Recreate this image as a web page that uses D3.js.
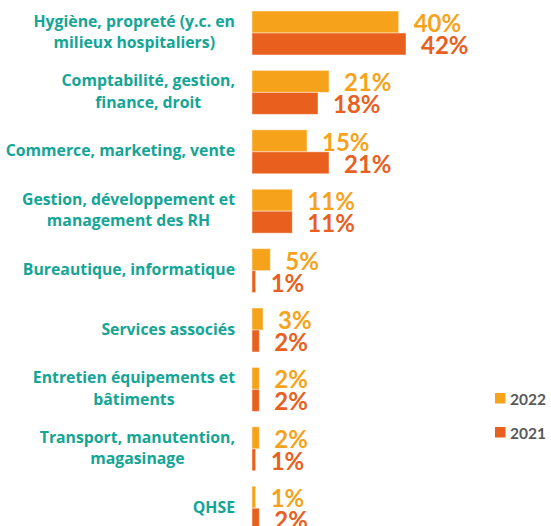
<!DOCTYPE html>
<html>
<head>
<meta charset="utf-8">
<script src="https://cdn.jsdelivr.net/npm/d3@7"></script>
<style>
  html, body { margin: 0; padding: 0; background: #fff; }
  svg { display: block; font-family: Lato, "Open Sans", sans-serif; }
</style>
</head>
<body>
<svg id="chart" width="551" height="526"></svg>
<script>
// Training domains, in display order (line breaks mark the wrapped labels)
const categories = [
  "Hygiène, propreté (y.c. en\nmilieux hospitaliers)",
  "Comptabilité, gestion,\nfinance, droit",
  "Commerce, marketing, vente",
  "Gestion, développement et\nmanagement des RH",
  "Bureautique, informatique",
  "Services associés",
  "Entretien équipements et\nbâtiments",
  "Transport, manutention,\nmagasinage",
  "QHSE"
];
const years = ["2022", "2021"];
const values2022 = [40, 21, 15, 11, 5, 3, 2, 2, 1];
const values2021 = [42, 18, 21, 11, 1, 2, 2, 1, 2];
const colors = { "2022": "#F6A31B", "2021": "#E9601E" };

const rows = categories.map((c, i) => ({
  category: c,
  values: [
    { year: "2022", value: values2022[i] },
    { year: "2021", value: values2021[i] }
  ]
}));

const svg = d3.select("#chart");

const x = d3.scaleLinear().domain([0, 42]).range([252, 406]);
const y = d3.scaleBand()
  .domain(categories)
  .range([3.3, 537.9])
  .paddingInner(0.26)
  .paddingOuter(0.13);
const ySub = d3.scaleBand().domain(years).range([0, y.bandwidth()]);

const groups = svg.append("g").selectAll("g.group")
  .data(rows)
  .join("g")
  .attr("class", "group")
  .attr("transform", d => `translate(0,${y(d.category)})`);

// Bars
groups.selectAll("rect")
  .data(d => d.values)
  .join("rect")
  .attr("x", x(0))
  .attr("y", d => ySub(d.year))
  .attr("width", d => x(d.value) - x(0))
  .attr("height", ySub.bandwidth())
  .attr("fill", d => colors[d.year])
  .attr("stroke", "rgba(255,255,255,0.45)")
  .attr("stroke-width", 1);

// Value labels
groups.selectAll("text.value")
  .data(d => d.values)
  .join("text")
  .attr("class", "value")
  .attr("x", d => x(d.value) + 15)
  .attr("y", d => ySub(d.year) + ySub.bandwidth() - 1)
  .attr("fill", d => colors[d.year])
  .attr("font-size", 24)
  .attr("font-weight", 700)
  .text(d => d.value + "%");

// Category labels: block right-aligned to the axis, lines centred within it
const labelRight = 235;
const lineH = 21.3;
const labels = svg.append("g").selectAll("text.cat")
  .data(categories)
  .join("text")
  .attr("class", "cat")
  .attr("fill", "#14A596")
  .attr("font-family", "'Open Sans', sans-serif")
  .attr("font-size", 15.8)
  .attr("font-weight", 700)
  .attr("text-anchor", "middle");

labels.each(function(c) {
  const t = d3.select(this);
  const lines = c.split("\n");
  const cy = y(c) + y.bandwidth() / 2 - 1;
  lines.forEach((ln, k) => {
    t.append("tspan")
      .attr("y", cy + 5.5 + (k - (lines.length - 1) / 2) * lineH)
      .text(ln);
  });
  let maxW = 0;
  t.selectAll("tspan").each(function() {
    maxW = Math.max(maxW, this.getComputedTextLength());
  });
  t.selectAll("tspan").attr("x", labelRight - maxW / 2);
});

// Legend
const legend = svg.append("g").selectAll("g.legend")
  .data(years)
  .join("g")
  .attr("class", "legend")
  .attr("transform", (d, i) => `translate(495,${393 + i * 34})`);

legend.append("rect")
  .attr("width", 10.5)
  .attr("height", 10.5)
  .attr("fill", d => colors[d]);

legend.append("text")
  .attr("x", 15)
  .attr("y", 12)
  .attr("fill", "#595959")
  .attr("font-size", 15.5)
  .attr("font-weight", 700)
  .text(d => d);
</script>
</body>
</html>
